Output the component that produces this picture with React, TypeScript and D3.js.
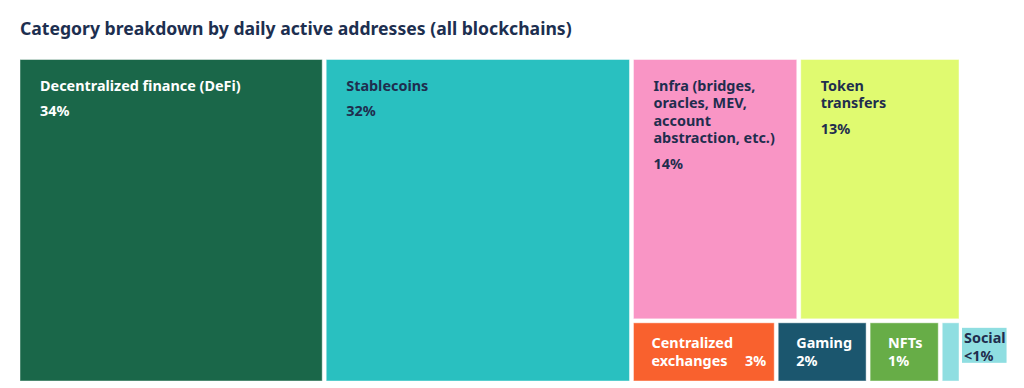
import React from 'react';
import * as d3 from 'd3';

// categories in drawing order
const categories = [
  'Decentralized finance (DeFi)',
  'Stablecoins',
  'Infra (bridges, oracles, MEV, account abstraction, etc.)',
  'Token transfers',
  'Centralized exchanges',
  'Gaming',
  'NFTs',
  'Social',
];

// how the label is broken into lines
const labelLines = [
  ['Decentralized finance (DeFi)'],
  ['Stablecoins'],
  ['Infra (bridges,', 'oracles, MEV,', 'account', 'abstraction, etc.)'],
  ['Token', 'transfers'],
  ['Centralized', 'exchanges'],
  ['Gaming'],
  ['NFTs'],
  ['Social'],
];

// printed share labels
const shareLabels = ['34%', '32%', '14%', '13%', '3%', '2%', '1%', '<1%'];

// tile areas (share of total, %)
const areaShares = [32.45, 32.56, 14.34, 13.91, 2.93, 1.86, 1.46, 0.42];

// which block of the treemap each category sits in
const blocks = ['main', 'main', 'upper', 'upper', 'lower', 'lower', 'lower', 'lower'];

const colors = ['#1a6749', '#29c0c0', '#f995c5', '#e0fa70', '#f9612e', '#1b566e', '#67ad47', '#8fdee1'];
const textColors = ['#ffffff', '#1f2d4e', '#1f2d4e', '#1f2d4e', '#ffffff', '#ffffff', '#ffffff', '#1f2d4e'];

const W = 1024;
const H = 388;
const FONT = '"Noto Sans", "Open Sans", sans-serif';
const FS = 14.4;

function measure(text: string, size: number) {
  const ctx = document.createElement('canvas').getContext('2d');
  if (!ctx) return text.length * size * 0.6;
  ctx.font = `bold ${size}px ${FONT}`;
  return ctx.measureText(text).width;
}

export default function App() {
  const leaves = categories.map((name, i) => ({ name, i, value: areaShares[i] }));
  const data = {
    name: 'root',
    children: [
      ...leaves.filter((d) => blocks[d.i] === 'main'),
      {
        name: 'rest',
        children: [
          { name: 'upper', children: leaves.filter((d) => blocks[d.i] === 'upper') },
          { name: 'lower', children: leaves.filter((d) => blocks[d.i] === 'lower') },
        ],
      },
    ],
  };

  const margin = { top: 59.5, left: 20 };
  const innerWidth = 939;
  const innerHeight = 321.5;

  const root = d3.hierarchy<any>(data).sum((d) => d.value || 0);

  // columns across the top level, stacked rows inside the rest block
  const tile = (node: any, x0: number, y0: number, x1: number, y1: number) => {
    if (node.depth === 1) d3.treemapSlice(node, x0, y0, x1, y1);
    else d3.treemapDice(node, x0, y0, x1, y1);
  };

  d3.treemap<any>().size([innerWidth, innerHeight]).paddingInner(4).tile(tile as any)(root);

  const cells = root.leaves() as any[];

  return (
    <svg width={W} height={H} style={{ position: 'absolute', left: 0, top: 0 }} fontFamily={FONT}>
      <rect width={W} height={H} fill="#ffffff" />
      <text x={20} y={34.5} fontSize={17.6} fontWeight="bold" fill="#1d2f50">
        Category breakdown by daily active addresses (all blockchains)
      </text>
      <g transform={`translate(${margin.left},${margin.top})`}>
        {cells.map((c) => {
          const i = c.data.i;
          const w = c.x1 - c.x0;
          const h = c.y1 - c.y0;
          const lines = labelLines[i];
          const fill = textColors[i];
          let label: React.ReactNode;

          if (w < 30) {
            // too narrow: label sits outside, on a matching swatch
            const tx = c.x1 + 5;
            const bw = Math.max(...[...lines, shareLabels[i]].map((t) => measure(t, FS))) + 3;
            label = (
              <g>
                <rect x={c.x1 + 3} y={c.y0 + 5} width={bw} height={35} fill={colors[i]} />
                <text x={tx} y={c.y0 + 20} fontSize={FS} fontWeight="bold" fill={fill}>
                  {lines.map((t, k) => (
                    <tspan key={k} x={tx} dy={k === 0 ? 0 : 18}>{t}</tspan>
                  ))}
                  <tspan x={tx} dy={18}>{shareLabels[i]}</tspan>
                </text>
              </g>
            );
          } else if (h < 100) {
            const tx = c.x0 + 18;
            const y = c.y0 + 25;
            label = (
              <g fontSize={FS} fontWeight="bold" fill={fill}>
                <text x={tx} y={y}>
                  {lines.map((t, k) => (
                    <tspan key={k} x={tx} dy={k === 0 ? 0 : 18}>{t}</tspan>
                  ))}
                </text>
                {lines.length > 1 ? (
                  <text x={c.x1 - 8} y={y + 18 * (lines.length - 1)} textAnchor="end">{shareLabels[i]}</text>
                ) : (
                  <text x={tx} y={y + 18}>{shareLabels[i]}</text>
                )}
              </g>
            );
          } else {
            const tx = c.x0 + 20;
            const y = c.y0 + 31;
            label = (
              <g fontSize={FS} fontWeight="bold" fill={fill}>
                <text x={tx} y={y}>
                  {lines.map((t, k) => (
                    <tspan key={k} x={tx} dy={k === 0 ? 0 : 17.5}>{t}</tspan>
                  ))}
                </text>
                <text x={tx} y={y + 17.5 * (lines.length - 1) + 25.5}>{shareLabels[i]}</text>
              </g>
            );
          }

          return (
            <g key={c.data.name}>
              <rect
                x={c.x0}
                y={c.y0}
                width={w}
                height={h}
                fill={colors[i]}
                stroke="rgba(255,255,255,0.45)"
                strokeWidth={1}
              />
              {label}
            </g>
          );
        })}
      </g>
    </svg>
  );
}
